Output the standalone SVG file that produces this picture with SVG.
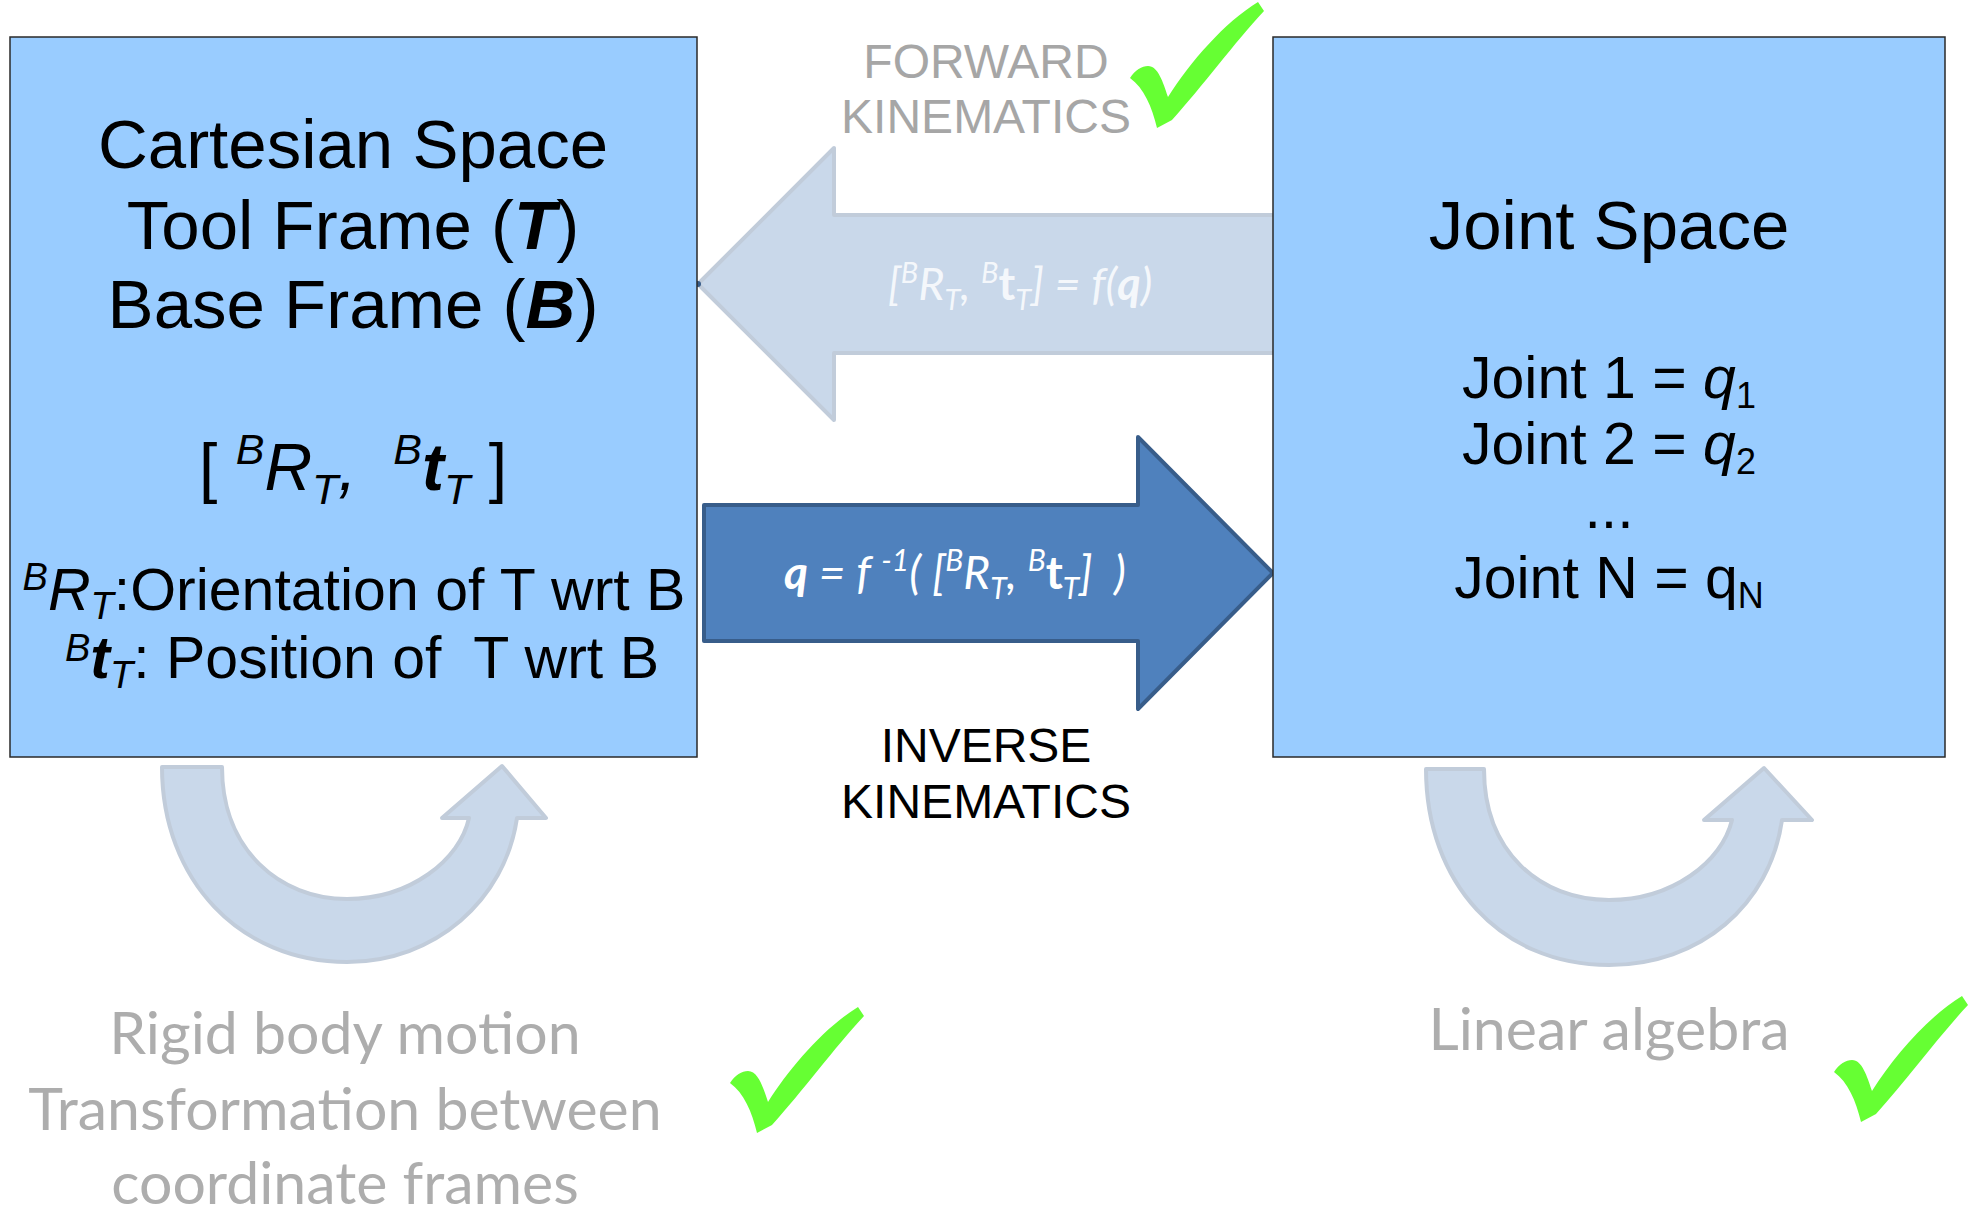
<svg xmlns="http://www.w3.org/2000/svg" width="1979" height="1212" viewBox="0 0 1979 1212">
<style>
.box{fill:#99ccff;stroke:#2a2a2a;stroke-width:1.5}
.ar{font-family:"Liberation Sans",Arial,sans-serif;fill:#000}
.t68{font-size:69px}
.t58{font-size:59px}
.lbl{font-family:"Liberation Sans",Arial,sans-serif;font-size:48px;text-anchor:middle}
.gray{fill:#a6a6a6}
.cal{font-family:Lato,"Open Sans",sans-serif;fill:#adadad;font-size:59px;text-anchor:middle}
.form{font-family:Lato,"Open Sans",sans-serif;font-style:italic;text-anchor:middle}
.light{fill:#c9d8ea;stroke:#c1ccda;stroke-width:4;stroke-linejoin:round}
.dark{fill:#4f81bd;stroke:#385d8a;stroke-width:4;stroke-linejoin:round}
.chk{fill:#66ff33}
.bi{font-weight:bold;font-style:italic}
.it{font-style:italic}
</style>
<defs>
<path id="check" d="M128,0 L134,9 C105,40 72,85 42,118 L27,126 C22,105 14,86 0,76 C5,68 12,64 18,64 C28,64 33,80 38,95 C60,60 95,20 128,0 Z"/>
</defs>

<g id="connectors">
  <g id="forward-arrow">
    <path class="light" d="M698,284 L834,148 L834,215 L1275,215 L1275,353 L834,353 L834,420 Z"/>
    <line x1="1275" y1="215" x2="1275" y2="353" stroke="#385d8a" stroke-width="2.5"/>
    <circle cx="698" cy="284" r="3" fill="#385d8a"/>
    <text class="form" x="1020" y="300" font-size="45" fill="#f4f7fb" xml:space="preserve"><tspan>[</tspan><tspan font-size="29" dy="-17">B</tspan><tspan dy="17">R</tspan><tspan font-size="29" dy="10">T</tspan><tspan dy="-10">, </tspan><tspan font-size="29" dy="-17">B</tspan><tspan dy="17" font-weight="bold" font-style="normal">t</tspan><tspan font-size="29" dy="10">T</tspan><tspan dy="-10">] = f(</tspan><tspan font-weight="bold">q</tspan><tspan>)</tspan></text>
  </g>
  <g id="inverse-arrow">
    <path class="dark" d="M704,505 L1138,505 L1138,437 L1273,573 L1138,709 L1138,641 L704,641 Z"/>
    <text class="form" x="955" y="589" font-size="46" fill="#ffffff" xml:space="preserve"><tspan font-weight="bold">q</tspan><tspan> = f </tspan><tspan font-size="30" dy="-18">-1</tspan><tspan dy="18">( [</tspan><tspan font-size="30" dy="-18">B</tspan><tspan dy="18">R</tspan><tspan font-size="30" dy="10">T</tspan><tspan dy="-10">, </tspan><tspan font-size="30" dy="-18">B</tspan><tspan dy="18" font-weight="bold" font-style="normal">t</tspan><tspan font-size="30" dy="10">T</tspan><tspan dy="-10">]  )</tspan></text>
  </g>
  <g id="loop-left">
    <path class="light" d="M162,767 L222,767 C222,850 280,899 347,899 C410,899 460,860 469,818 L442,818 L502,766 L546,818 L517,818 C505,900 435,962 347,962 C240,962 162,880 162,767 Z"/>
  </g>
  <g id="loop-right">
    <path class="light" d="M1426,769 L1484,769 C1484,852 1540,900 1609,900 C1672,900 1722,862 1732,820 L1704,820 L1764,768 L1812,820 L1782,820 C1770,905 1700,965 1609,965 C1500,965 1426,882 1426,769 Z"/>
  </g>
</g>

<g id="node-cartesian">
  <rect class="box" x="10" y="37" width="687" height="720"/>
  <text class="ar t68" x="353" y="168" text-anchor="middle">Cartesian Space</text>
  <text class="ar t68" x="353" y="249" text-anchor="middle">Tool Frame (<tspan class="bi">T</tspan>)</text>
  <text class="ar t68" x="353" y="328" text-anchor="middle">Base Frame (<tspan class="bi">B</tspan>)</text>
  <text class="ar" x="353" y="490" font-size="66" text-anchor="middle" xml:space="preserve"><tspan>[ </tspan><tspan class="it" font-size="43" dy="-26">B</tspan><tspan class="it" dy="26">R</tspan><tspan class="it" font-size="43" dy="14">T</tspan><tspan class="it" dy="-14">,  </tspan><tspan class="it" font-size="43" dy="-26">B</tspan><tspan class="bi" dy="26">t</tspan><tspan class="it" font-size="43" dy="14">T</tspan><tspan dy="-14"> ]</tspan></text>
  <text class="ar t58" x="354" y="610" text-anchor="middle"><tspan class="it" font-size="38" dy="-20">B</tspan><tspan class="it" dy="20">R</tspan><tspan class="it" font-size="38" dy="9">T</tspan><tspan dy="-9">:Orientation of T wrt B</tspan></text>
  <text class="ar t58" x="362" y="678" text-anchor="middle" xml:space="preserve"><tspan class="it" font-size="38" dy="-17">B</tspan><tspan class="bi" dy="17">t</tspan><tspan class="it" font-size="38" dy="10">T</tspan><tspan dy="-10">: Position of  T wrt B</tspan></text>
</g>

<g id="node-joint">
  <rect class="box" x="1273" y="37" width="672" height="720"/>
  <text class="ar t68" x="1609" y="249" text-anchor="middle">Joint Space</text>
  <text class="ar t58" x="1609" y="398" text-anchor="middle">Joint 1 = <tspan class="it">q</tspan><tspan font-size="36" dy="10">1</tspan></text>
  <text class="ar t58" x="1609" y="464" text-anchor="middle">Joint 2 = <tspan class="it">q</tspan><tspan font-size="36" dy="10">2</tspan></text>
  <text class="ar t58" x="1609" y="528" text-anchor="middle">...</text>
  <text class="ar t58" x="1609" y="598" text-anchor="middle">Joint N = q<tspan font-size="36" dy="10">N</tspan></text>
</g>

<g id="label-forward">
  <text class="lbl gray" x="986" y="78">FORWARD</text>
  <text class="lbl gray" x="986" y="133">KINEMATICS</text>
</g>
<g id="label-inverse">
  <text class="lbl" x="986" y="762">INVERSE</text>
  <text class="lbl" x="986" y="818">KINEMATICS</text>
</g>
<g id="label-rigid">
  <text class="cal" x="345" y="1054">Rigid body motion</text>
  <text class="cal" x="345" y="1130">Transformation between</text>
  <text class="cal" x="345" y="1204">coordinate frames</text>
</g>
<g id="label-linear">
  <text class="cal" x="1609" y="1050">Linear algebra</text>
</g>
<g id="checks">
  <use href="#check" class="chk" transform="translate(1130,2)"/>
  <use href="#check" class="chk" transform="translate(730,1007)"/>
  <use href="#check" class="chk" transform="translate(1834,996)"/>
</g>
</svg>
